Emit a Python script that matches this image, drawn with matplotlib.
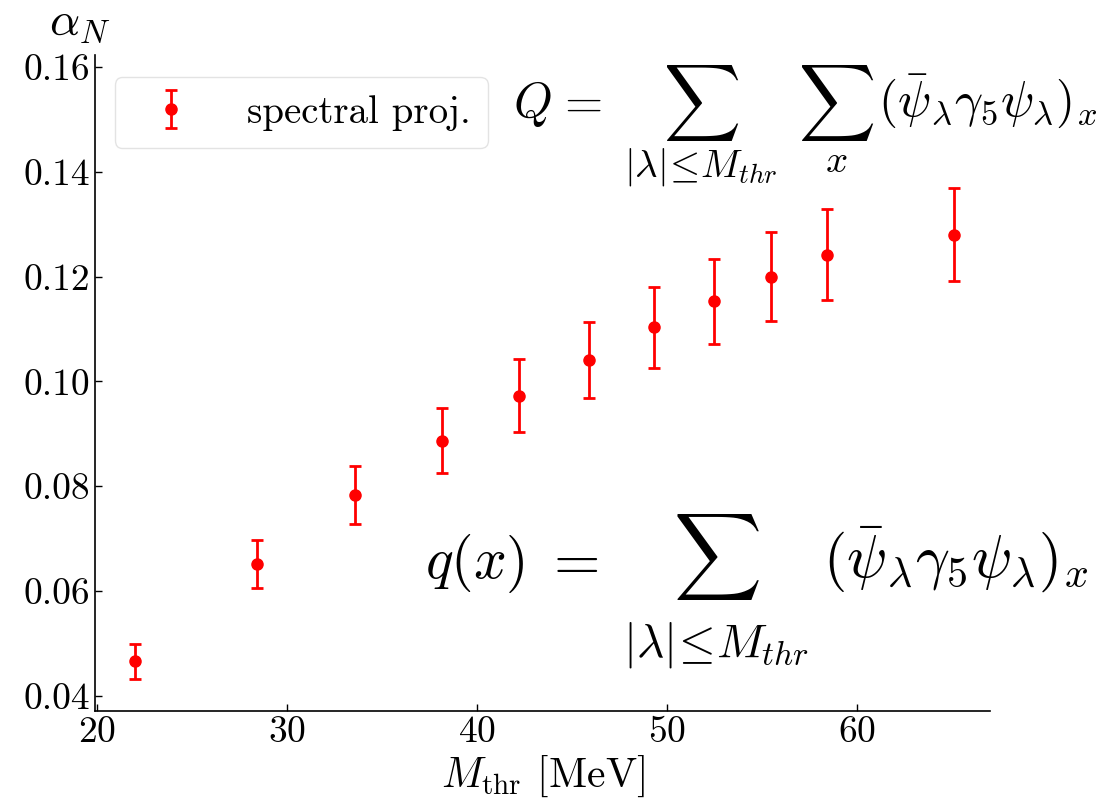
import matplotlib
matplotlib.use("Agg")
import matplotlib.pyplot as plt

plt.rcParams['font.family'] = 'serif'
plt.rcParams['font.serif'] = ['cmr10']
plt.rcParams['mathtext.fontset'] = 'cm'
plt.rcParams['axes.formatter.use_mathtext'] = True

M_thr = [22.0, 28.4, 33.6, 38.15, 42.2, 45.9, 49.3, 52.5, 55.5, 58.4, 65.1]
alpha_N = [0.0466, 0.0652, 0.0783, 0.0887, 0.0973, 0.1041, 0.1103, 0.1153, 0.1200, 0.1242, 0.1280]
alpha_err = [0.0033, 0.0046, 0.0056, 0.0062, 0.0069, 0.0073, 0.0078, 0.0081, 0.0085, 0.0087, 0.0089]

xticks = [20, 30, 40, 50, 60]
yticks = [0.04, 0.06, 0.08, 0.10, 0.12, 0.14, 0.16]

W, H = 1115, 805
fig = plt.figure(figsize=(W/100, H/100), dpi=100)
ax = fig.add_axes([95/W, 1-711/H, (990-95)/W, (711-55)/H])

ax.errorbar(M_thr, alpha_N, yerr=alpha_err, fmt='o', color='red', ecolor='red',
            markersize=8, elinewidth=2, capsize=4.5, capthick=2, label='spectral proj.')

ax.set_xlim(19.9, 67.0)
ax.set_ylim(0.0371, 0.1623)
ax.set_xticks(xticks)
ax.set_yticks(yticks)
ax.set_yticklabels([f"{v:.2f}" for v in yticks])
ax.tick_params(direction='in', labelsize=27, length=5, width=1)
for s in ['top', 'right']:
    ax.spines[s].set_visible(False)
for s in ['left', 'bottom']:
    ax.spines[s].set_linewidth(1.2)

ax.set_xlabel(r'$M_{\rm thr}$ [MeV]', fontsize=30, labelpad=3)
fig.text(80/W, 1-24/H, r'$\alpha_N$', fontsize=34, ha='center', va='center')

leg = ax.legend(loc='upper left', fontsize=28, frameon=True, fancybox=True,
                bbox_to_anchor=(0.022, 0.966), borderaxespad=0, borderpad=0.45,
                handletextpad=0.95, handlelength=2.0)
leg.get_frame().set_edgecolor('#dddddd')


def put(x, y, s, fs, ha='left', va='baseline'):
    fig.text(x/W, 1-y/H, s, fontsize=fs, ha=ha, va=va)

sub = r'$|\lambda|\!\leq\! M_{thr}$'
term = r'$(\bar{\psi}_\lambda\gamma_5\psi_\lambda)_x$'

# Q = sum_{|lambda|<=M_thr} sum_x (...)_x
put(513, 117, r'$Q$', 35.5)
put(556, 117, r'$=$', 35.5)
put(701, 103, r'$\sum$', 38.5, ha='center', va='center')
put(701, 176, sub, 28, ha='center')
put(836, 103, r'$\sum$', 38.5, ha='center', va='center')
put(836, 172, r'$x$', 28, ha='center')
put(878, 117, term, 35.5)

# q(x) = sum_{|lambda|<=M_thr} (...)_x
put(425, 578, r'$q(x)$', 41.5)
put(543, 578, r'$=$', 43)
put(716, 557, r'$\sum$', 44, ha='center', va='center')
put(716, 656, sub, 34, ha='center')
put(823, 578, term, 43)

fig.savefig('out.png', dpi=100)
